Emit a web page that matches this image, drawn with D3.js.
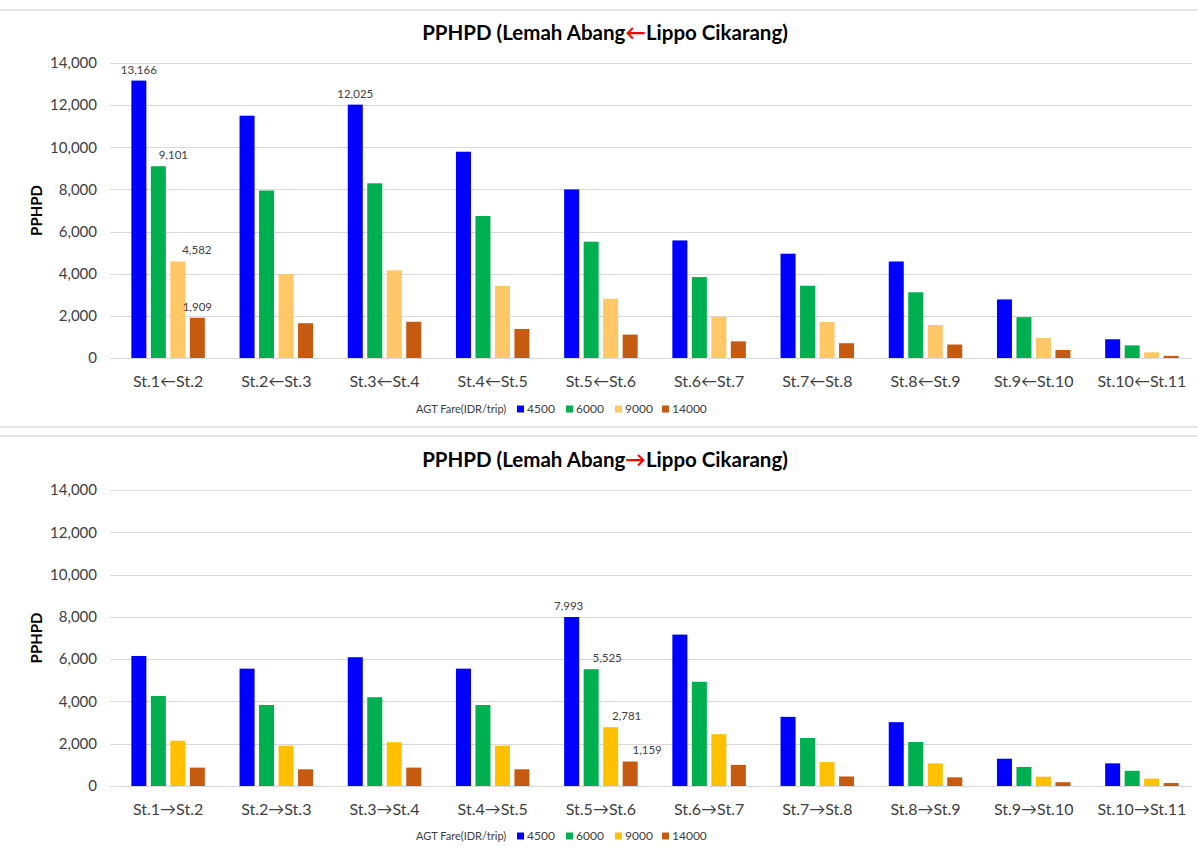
<!DOCTYPE html>
<html>
<head>
<meta charset="utf-8">
<script src="https://cdn.jsdelivr.net/npm/d3@7"></script>
<style>
  html, body { margin: 0; padding: 0; background: #ffffff; }
  svg { display: block; font-family: Lato, "Open Sans", sans-serif; }
</style>
</head>
<body>
<svg id="chart" width="1198" height="850"></svg>
<script>
// Station segments, direction Lippo Cikarang -> Lemah Abang
const categoriesInbound = ["St.1←St.2", "St.2←St.3", "St.3←St.4", "St.4←St.5", "St.5←St.6",
  "St.6←St.7", "St.7←St.8", "St.8←St.9", "St.9←St.10", "St.10←St.11"];
// Station segments, direction Lemah Abang -> Lippo Cikarang
const categoriesOutbound = ["St.1→St.2", "St.2→St.3", "St.3→St.4", "St.4→St.5", "St.5→St.6",
  "St.6→St.7", "St.7→St.8", "St.8→St.9", "St.9→St.10", "St.10→St.11"];

// AGT fare levels (IDR/trip)
const fares = ["4500", "6000", "9000", "14000"];

// PPHPD, Lemah Abang ← Lippo Cikarang
const inbound4500  = [13166, 11500, 12025, 9790, 8000, 5580, 4950, 4580, 2780, 890];
const inbound6000  = [9101, 7950, 8290, 6740, 5520, 3840, 3430, 3120, 1940, 600];
const inbound9000  = [4582, 3980, 4160, 3420, 2810, 1950, 1710, 1570, 950, 270];
const inbound14000 = [1909, 1650, 1720, 1380, 1110, 790, 700, 640, 380, 100];

// PPHPD, Lemah Abang → Lippo Cikarang
const outbound4500  = [6150, 5550, 6090, 5550, 7993, 7160, 3270, 3020, 1290, 1070];
const outbound6000  = [4260, 3830, 4200, 3830, 5525, 4930, 2270, 2080, 900, 720];
const outbound9000  = [2140, 1910, 2070, 1910, 2781, 2450, 1130, 1070, 440, 350];
const outbound14000 = [870, 790, 870, 790, 1159, 1000, 450, 410, 180, 140];

// Value ticks on the PPHPD axis
const yTicks = [0, 2000, 4000, 6000, 8000, 10000, 12000, 14000];

// Bars that carry a value label: [segment index, fare]
const inboundLabelled  = [[0, "4500"], [0, "6000"], [0, "9000"], [0, "14000"], [2, "4500"]];
const outboundLabelled = [[4, "4500"], [4, "6000"], [4, "9000"], [4, "14000"]];

const svg = d3.select("#chart");
const textColor = "#404040";
const gridColor = "#d9d9d9";
const fmt = d3.format(",");

function drawPanel(opts) {
  const g = svg.append("g");
  const series = [opts.v4500, opts.v6000, opts.v9000, opts.v14000];
  const colors = d3.scaleOrdinal().domain(fares).range(opts.colors);

  // panel frame line on top
  g.append("line")
    .attr("x1", 0).attr("x2", 1198)
    .attr("y1", opts.frameTop).attr("y2", opts.frameTop)
    .attr("stroke", "#dcdcdc").attr("stroke-width", 1.5);

  const x0 = d3.scaleBand().domain(opts.categories).range([114, 1196]).padding(0);
  const x1 = d3.scaleBand().domain(fares).range([0, x0.bandwidth()])
    .paddingInner(0.23).paddingOuter(0.89);
  const y = d3.scaleLinear().domain([0, 14000]).range([opts.yBottom, opts.yTop]);

  // gridlines
  g.append("g").selectAll("line").data(yTicks).join("line")
    .attr("x1", 110).attr("x2", 1192)
    .attr("y1", d => Math.round(y(d)) + 0.5).attr("y2", d => Math.round(y(d)) + 0.5)
    .attr("stroke", gridColor).attr("stroke-width", 1);

  // y axis tick labels
  const yAxis = d3.axisLeft(y).tickValues(yTicks).tickFormat(fmt).tickSize(0).tickPadding(0);
  const ya = g.append("g").attr("transform", "translate(97,0)").call(yAxis);
  ya.select(".domain").remove();
  ya.selectAll("text").attr("fill", textColor).style("font-size", "15px")
    .style("font-family", "Lato, sans-serif");

  // y axis title
  g.append("text")
    .attr("transform", `translate(42,${(opts.yTop + opts.yBottom) / 2}) rotate(-90)`)
    .attr("text-anchor", "middle")
    .attr("fill", "#000").style("font-size", "15px").style("font-weight", "bold")
    .text("PPHPD");

  // x axis category labels
  const xAxis = d3.axisBottom(x0).tickSize(0).tickPadding(0);
  const xa = g.append("g").attr("transform", `translate(0,${opts.yBottom + 18})`).call(xAxis);
  xa.select(".domain").remove();
  xa.selectAll("text").attr("fill", textColor).style("font-size", "16px")
    .style("font-family", "Lato, sans-serif").attr("dy", "0.71em");

  // bars
  const rows = opts.categories.map((c, i) => ({
    cat: c,
    vals: fares.map((f, k) => ({ fare: f, value: series[k][i] }))
  }));
  g.append("g").selectAll("g").data(rows).join("g")
    .attr("transform", d => `translate(${x0(d.cat)},0)`)
    .selectAll("rect").data(d => d.vals).join("rect")
    .attr("x", d => x1(d.fare))
    .attr("width", x1.bandwidth())
    .attr("y", d => y(d.value))
    .attr("height", d => y(0) - y(d.value))
    .attr("fill", d => colors(d.fare));

  // value labels
  g.append("g").selectAll("text").data(opts.labelled).join("text")
    .attr("x", ([i, f]) => x0(opts.categories[i]) + x1(f) + x1.bandwidth() / 2 + opts.labelShift[fares.indexOf(f)])
    .attr("y", ([i, f]) => y(series[fares.indexOf(f)][i]) - 7)
    .attr("text-anchor", "middle")
    .attr("fill", textColor).style("font-size", "11.5px")
    .text(([i, f]) => fmt(series[fares.indexOf(f)][i]));

  // title
  const title = g.append("text")
    .attr("x", 605).attr("y", opts.titleY)
    .attr("text-anchor", "middle")
    .attr("fill", "#000").style("font-size", "20.5px").style("font-weight", "bold");
  title.append("tspan").text("PPHPD (Lemah Abang");
  title.append("tspan").attr("fill", "#ff0000").text(opts.arrow);
  title.append("tspan").text("Lippo Cikarang)");

  // legend
  const lg = g.append("g").attr("transform", `translate(416,${opts.legendY})`);
  lg.append("text").attr("x", 0).attr("y", 4)
    .attr("fill", textColor).style("font-size", "11px").text("AGT Fare(IDR/trip)");
  const legendX = [101, 150, 199, 246];
  fares.forEach((f, k) => {
    lg.append("rect").attr("x", legendX[k]).attr("y", -3.5).attr("width", 7).attr("height", 7)
      .attr("fill", colors(f));
    lg.append("text").attr("x", legendX[k] + 10).attr("y", 4)
      .attr("fill", textColor).style("font-size", "12px").text(f);
  });
}

drawPanel({
  categories: categoriesInbound,
  v4500: inbound4500, v6000: inbound6000, v9000: inbound9000, v14000: inbound14000,
  colors: ["#0000ff", "#00b050", "#ffc766", "#c55a11"],
  yTop: 63, yBottom: 358, frameTop: 10,
  titleY: 40, arrow: "←", legendY: 409,
  labelled: inboundLabelled, labelShift: [0, 15, 19, 0]
});

drawPanel({
  categories: categoriesOutbound,
  v4500: outbound4500, v6000: outbound6000, v9000: outbound9000, v14000: outbound14000,
  colors: ["#0000ff", "#00b050", "#ffc000", "#c55a11"],
  yTop: 490, yBottom: 786, frameTop: 436,
  titleY: 467, arrow: "→", legendY: 836,
  labelled: outboundLabelled, labelShift: [-3, 16, 16, 17]
});

// separator between the two panels
svg.append("line").attr("x1", 0).attr("x2", 1198).attr("y1", 427).attr("y2", 427)
  .attr("stroke", "#dcdcdc").attr("stroke-width", 1.5);
</script>
</body>
</html>
